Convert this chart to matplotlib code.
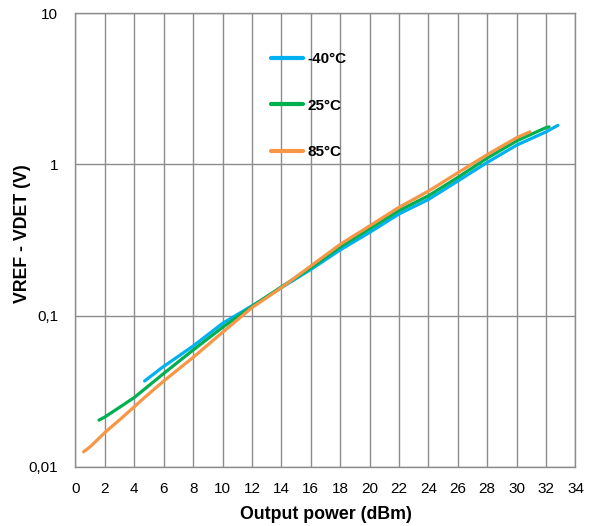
import matplotlib.pyplot as plt
from matplotlib.ticker import NullLocator

plt.rcParams['font.family'] = ['Liberation Sans', 'DejaVu Sans']

# Detector output vs output power, three temperatures
blue_x = [4.7, 5.9, 8.0, 10.0, 12.0, 14.0, 16.0, 18.0, 20.0, 22.0, 24.0, 26.0, 28.0, 30.0, 32.0, 32.8]
blue_y = [0.037, 0.0455, 0.063, 0.089, 0.116, 0.153, 0.202, 0.272, 0.355, 0.47, 0.586, 0.776, 1.03, 1.34, 1.64, 1.81]

green_x = [1.6, 2.0, 3.0, 4.0, 6.0, 8.0, 10.0, 12.0, 14.0, 16.0, 18.0, 20.0, 22.0, 24.0, 26.0, 28.0, 30.0, 32.0, 32.2]
green_y = [0.0204, 0.0214, 0.0248, 0.0288, 0.0415, 0.0593, 0.0837, 0.115, 0.155, 0.207, 0.285, 0.375, 0.495, 0.62, 0.82, 1.10, 1.43, 1.75, 1.77]

orange_x = [0.55, 1.0, 2.0, 3.0, 4.0, 4.7, 6.0, 8.0, 10.0, 12.0, 14.0, 16.0, 18.0, 20.0, 22.0, 24.0, 26.0, 28.0, 30.0, 30.9]
orange_y = [0.0126, 0.0136, 0.0169, 0.0205, 0.025, 0.0288, 0.037, 0.053, 0.0776, 0.113, 0.153, 0.213, 0.296, 0.392, 0.52, 0.665, 0.88, 1.16, 1.50, 1.64]

labels = ['-40°C', '25°C', '85°C']
colors = ['#00B0F0', '#00B050', '#F79646']

x_ticks = list(range(0, 35, 2))
y_ticks = [0.01, 0.1, 1, 10]
y_tick_labels = ['0,01', '0,1', '1', '10']

fig = plt.figure(figsize=(5.92, 5.26), dpi=100)
ax = fig.add_axes([0.1275, 0.1122, 0.8446, 0.863])

series = [(blue_x, blue_y), (green_x, green_y), (orange_x, orange_y)]
for (xs, ys), lab, col in zip(series, labels, colors):
    ax.plot(xs, ys, color=col, lw=2.3, label=lab, solid_capstyle='round')

ax.set_yscale('log')
ax.set_xlim(0, 34)
ax.set_ylim(0.01, 10)
ax.set_xticks(x_ticks)
ax.set_yticks(y_ticks)
ax.set_yticklabels(y_tick_labels)
ax.yaxis.set_minor_locator(NullLocator())
ax.tick_params(length=0, labelsize=11)
ax.tick_params(axis='x', pad=10.5)
ax.tick_params(axis='y', pad=12.5)

ax.grid(True, color='#8c8c8c', lw=1)
ax.set_axisbelow(True)
for s in ax.spines.values():
    s.set_color('#8c8c8c')
    s.set_linewidth(1)

ax.set_xlabel('Output power (dBm)', fontsize=12.8, fontweight='bold')
ax.set_ylabel('VREF - VDET (V)', fontsize=12.8, fontweight='bold')
ax.xaxis.set_label_coords(0.5, -0.085)
ax.yaxis.set_label_coords(-0.088, 0.513)

leg = ax.legend(loc='upper left', bbox_to_anchor=(0.391, 0.914), frameon=False,
                handlelength=2.1, handletextpad=0.3, labelspacing=2.13,
                borderpad=0, borderaxespad=0,
                prop={'weight': 'bold', 'size': 11})
for h in leg.get_lines():
    h.set_linewidth(3)

fig.savefig('out.png', dpi=100)
